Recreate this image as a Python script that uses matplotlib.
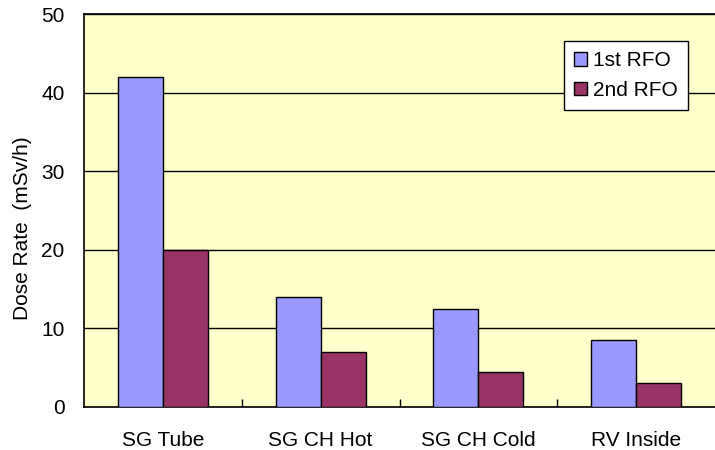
import matplotlib
matplotlib.use("Agg")
import matplotlib.pyplot as plt
import numpy as np

plt.rcParams['font.family'] = ['Liberation Sans', 'DejaVu Sans']

locations = ["SG Tube", "SG CH Hot", "SG CH Cold", "RV Inside"]
first_rfo = [42.0, 14.0, 12.5, 8.5]
second_rfo = [20.0, 7.0, 4.5, 3.0]

fig = plt.figure(figsize=(7.15, 4.5), dpi=100)
ax = fig.add_axes([84 / 715, 43 / 450, 1 - 84 / 715, 393 / 450])
ax.set_facecolor('#FFFFCC')

x = np.arange(len(locations))
w = 0.285
ax.bar(x - w / 2, first_rfo, w, color='#9999FF', edgecolor='black', linewidth=1, label='1st RFO', zorder=3)
ax.bar(x + w / 2, second_rfo, w, color='#993366', edgecolor='black', linewidth=1, label='2nd RFO', zorder=3)

ax.set_xlim(-0.5, 3.5)
ax.set_ylim(0, 50)
ax.set_yticks(np.arange(0, 51, 10))
ax.yaxis.grid(True, color='black', linewidth=1, zorder=1)
ax.tick_params(axis='y', length=0, pad=14, labelsize=15)

ax.set_xticks(x)
ax.set_xticklabels(locations)
ax.set_xticks([0.5, 1.5, 2.5], minor=True)
ax.tick_params(axis='x', which='major', length=0, pad=17, labelsize=15)
ax.tick_params(axis='x', which='minor', direction='in', length=6, width=1)

for side in ['left', 'top', 'bottom']:
    ax.spines[side].set_linewidth(1.2)
ax.spines['right'].set_visible(False)

ax.set_ylabel('Dose Rate  (mSv/h)', fontsize=15, va='center')
ax.yaxis.set_label_coords(-0.098, 0.455)

leg = ax.legend(loc='upper right', bbox_to_anchor=(604 / 631, 1 - 27 / 393), borderaxespad=0,
                fontsize=15, frameon=True, fancybox=False, handlelength=0.6, handleheight=0.6,
                handletextpad=0.3, borderpad=0.5, labelspacing=0.5)
leg.get_frame().set_edgecolor('black')
leg.get_frame().set_linewidth(1)
leg.get_frame().set_facecolor('white')
leg.get_frame().set_alpha(1)

fig.savefig('out.png', dpi=100)
